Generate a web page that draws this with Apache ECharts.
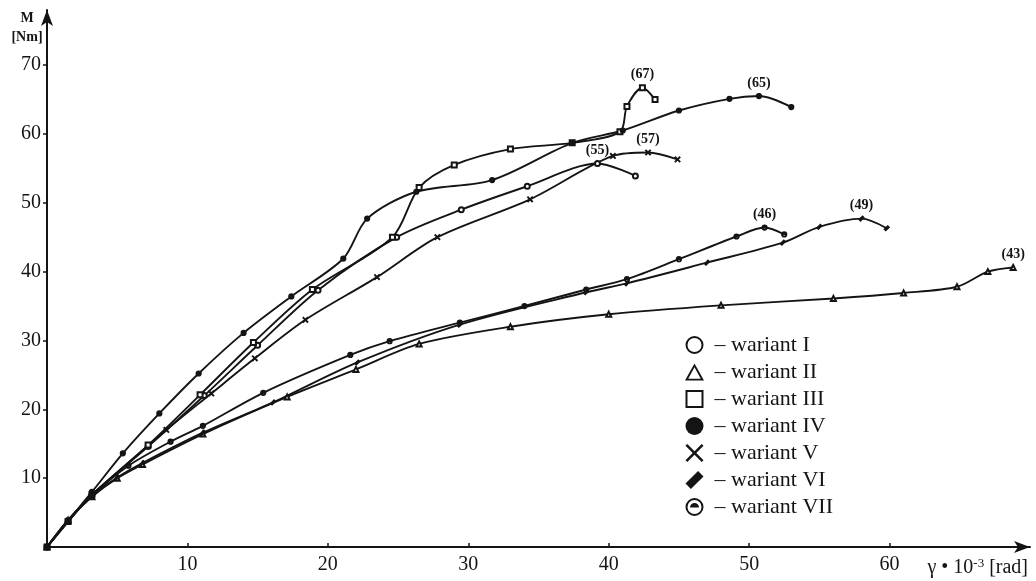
<!DOCTYPE html>
<html>
<head>
<meta charset="utf-8">
<script src="https://cdn.jsdelivr.net/npm/echarts@6/dist/echarts.min.js"></script>
<style>
html,body{margin:0;padding:0;background:#ffffff;}
#chart{width:1036px;height:581px;}
</style>
</head>
<body>
<div id="chart"></div>
<script>
// ---- data (gamma * 10^-3 [rad], M [Nm]) ----
const seriesNames = ['wariant I','wariant II','wariant III','wariant IV','wariant V','wariant VI','wariant VII'];
const peakLabels = ['(55)','(43)','(67)','(65)','(57)','(49)','(46)'];
const xTicks = [10,20,30,40,50,60];
const yTicks = [10,20,30,40,50,60,70];

const wariantI = [[0,0],[1.5,3.7],[3.2,7.6],[7.2,14.6],[11.2,22],[15,29.3],[19.3,37.3],[24.9,45],[29.5,49],[34.2,52.4],[39.2,55.7],[41.9,53.9]];
const wariantII = [[0,0],[1.5,3.9],[3.2,7.3],[5,10],[6.8,12],[11.1,16.4],[17.1,21.8],[22,25.8],[26.5,29.5],[33,32],[40,33.8],[48,35.1],[56,36.1],[61,36.9],[64.8,37.8],[67,40],[68.8,40.6]];
const wariantIII = [[0,0],[1.5,3.7],[3.2,7.6],[7.2,14.8],[10.9,22.1],[14.7,29.7],[18.9,37.4],[24.6,45],[26.5,52.2],[29,55.5],[33,57.8],[37.4,58.7],[40.8,60.3],[41.3,64],[42.4,66.7],[43.3,65]];
const wariantIV = [[0,0],[1.5,3.8],[3.2,8],[5.4,13.6],[8,19.4],[10.8,25.2],[14,31.1],[17.4,36.4],[21.1,41.9],[22.8,47.7],[26.3,51.6],[31.7,53.3],[37.4,58.7],[41,60.5],[45,63.4],[48.6,65.1],[50.7,65.5],[53,63.9]];
const wariantV = [[0,0],[1.5,3.7],[3.2,7.5],[8.5,17],[11.7,22.3],[14.8,27.4],[18.4,33],[23.5,39.2],[27.8,45],[34.4,50.5],[40.3,56.8],[42.8,57.3],[44.9,56.3]];
const wariantVI = [[0,0],[1.5,3.9],[3.2,7.4],[5,10.1],[6.8,12.2],[11.1,16.6],[16.1,21],[22.1,26.8],[29.4,32.3],[38.4,37],[41.3,38.3],[47,41.3],[52.4,44.2],[55,46.5],[58,47.7],[59.8,46.3]];
const wariantVII = [[0,0],[1.5,3.9],[3.2,7.5],[5.8,11.8],[8.8,15.3],[11.1,17.6],[15.4,22.4],[21.6,27.9],[24.4,29.9],[29.4,32.6],[34,35],[38.4,37.4],[41.3,38.9],[45,41.8],[49.1,45.1],[51.1,46.4],[52.5,45.4]];

const allData = [wariantI,wariantII,wariantIII,wariantIV,wariantV,wariantVI,wariantVII];

// ---- styling ----
const INK = '#141414';
const SERIF = '"Liberation Serif","DejaVu Serif",serif';
const P = {
  ring: 'path://M10,0A10,10,0,1,1,9.99,0ZM10,2.2A7.8,7.8,0,1,0,10.01,2.2Z',
  tri: 'path://M10,0L20,18L0,18ZM10,4.1L3.4,16L16.6,16Z',
  sq: 'path://M0,0L18,0L18,18L0,18ZM2,2L2,16L16,16L16,2Z',
  cross: 'path://M0,2L2,0L10,8L18,0L20,2L12,10L20,18L18,20L10,12L2,20L0,18L8,10Z',
  bar: 'path://M0,14L14,0L20,6L6,20Z',
  dotRing: 'path://M10,0A10,10,0,1,1,9.99,0ZM10,2.2A7.8,7.8,0,1,0,10.01,2.2ZM5,10.5A5,5,0,0,1,15,10.5Z'
};
const seriesSymbols = ['emptyCircle','emptyTriangle','emptyRect','circle',P.cross,P.bar,P.dotRing];
const legendIcons = [P.ring,P.tri,P.sq,'circle',P.cross,P.bar,P.dotRing];

function buildData(pts, labelText){
  let mi = 0;
  pts.forEach((p,i)=>{ if(p[1] > pts[mi][1]) mi = i; });
  return pts.map((p,i)=> i===mi ? {value:p, label:{show:true, position:'top', distance:3, formatter:labelText}} : p);
}

const series = allData.map((d,i)=>({
  name: seriesNames[i],
  type: 'line',
  data: buildData(d, peakLabels[i]),
  smooth: 0.3,
  symbol: seriesSymbols[i],
  symbolSize: 5,
  showAllSymbol: true,
  lineStyle: {color: INK, width: 1.9},
  itemStyle: {color: INK, borderColor: INK, borderWidth: 1.2},
  label: {show:false, color: INK, fontFamily: SERIF, fontSize: 14, fontWeight: 'bold'},
  emphasis: {disabled: true},
  animation: false,
  z: 3
}));

const chart = echarts.init(document.getElementById('chart'), null, {renderer:'canvas'});
chart.setOption({
  backgroundColor: '#ffffff',
  animation: false,
  grid: {left: 47, right: 6, top: 10, bottom: 34, containLabel: false},
  xAxis: {
    type: 'value', min: 0, max: 70,
    axisLine: {show: true, symbol: ['none','arrow'], symbolSize: [9,16], lineStyle: {color: INK, width: 2}},
    axisTick: {show: true, inside: true, length: 4, customValues: xTicks, lineStyle:{color: INK, width: 1.5}},
    axisLabel: {customValues: xTicks, color: INK, fontFamily: SERIF, fontSize: 20, margin: 8},
    splitLine: {show: false},
    name: '{a|γ • 10}{s|-3}{a| [rad]}',
    nameLocation: 'end', nameGap: -2,
    nameTextStyle: {align: 'right', verticalAlign: 'top', padding: [10,0,0,0],
      rich: {a: {fontFamily: SERIF, fontSize: 20, color: INK}, s: {fontFamily: SERIF, fontSize: 13, color: INK, verticalAlign: 'top', padding:[0,0,9,0]}}}
  },
  yAxis: {
    type: 'value', min: 0, max: 78,
    axisLine: {show: true, symbol: ['none','arrow'], symbolSize: [9,16], lineStyle: {color: INK, width: 2}},
    axisTick: {show: true, length: 4, customValues: yTicks, lineStyle:{color: INK, width: 1.5}},
    axisLabel: {customValues: yTicks, color: INK, fontFamily: SERIF, fontSize: 20, margin: 6},
    splitLine: {show: false},
    name: 'M\n[Nm]',
    nameLocation: 'end', nameGap: -37,
    nameTextStyle: {align: 'center', verticalAlign: 'bottom', padding: [0,40,0,0], fontFamily: SERIF, fontSize: 14, fontWeight: 'bold', color: INK, lineHeight: 19}
  },
  legend: {
    orient: 'vertical', left: 680, top: 329,
    itemWidth: 19, itemHeight: 18, itemGap: 5,
    selectedMode: false,
    itemStyle: {borderWidth: 0},
    textStyle: {fontFamily: SERIF, fontSize: 22, color: INK, lineHeight: 22},
    formatter: n => ' – ' + n,
    data: seriesNames.map((n,i)=>({name: n, icon: legendIcons[i]}))
  },
  series: series
});
</script>
</body>
</html>
